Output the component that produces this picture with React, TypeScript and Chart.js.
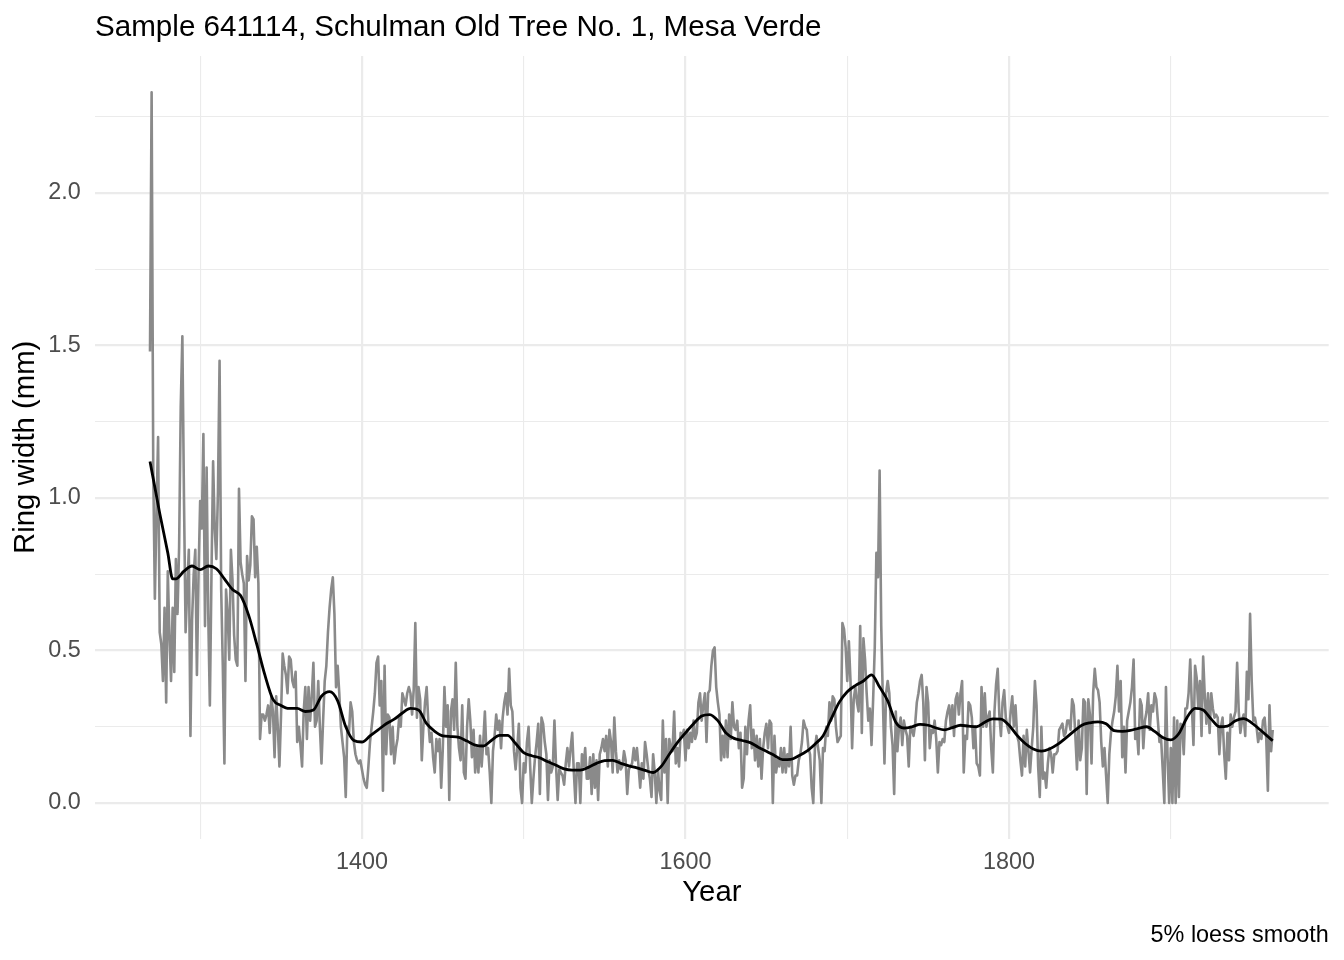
import React, { useEffect, useRef } from 'react';
import { Chart, registerables } from 'chart.js';

Chart.register(...registerables);

// Ring widths (mm), one value per year starting at FIRST_YEAR
const FIRST_YEAR = 1269;
const ringWidths: number[] = [
  1.48, 2.33, 1.10, 0.67, 0.95, 1.20, 0.56, 0.52, 0.40, 0.64, // 1269
  0.33, 0.76, 0.55, 0.40, 0.64, 0.43, 0.80, 0.62, 0.84, 1.30, // 1279
  1.53, 1.00, 0.56, 0.70, 0.83, 0.22, 0.60, 0.75, 0.83, 0.42, // 1289
  0.75, 0.99, 0.90, 1.21, 0.58, 1.10, 0.62, 0.32, 0.75, 1.12, // 1299
  0.90, 0.80, 1.02, 1.45, 0.70, 0.45, 0.13, 0.70, 0.62, 0.47, // 1309
  0.83, 0.73, 0.55, 0.47, 0.45, 1.03, 0.79, 0.75, 0.72, 0.40, // 1319
  0.81, 0.73, 0.78, 0.94, 0.93, 0.74, 0.84, 0.72, 0.21, 0.29, // 1329
  0.29, 0.27, 0.29, 0.32, 0.23, 0.35, 0.30, 0.15, 0.35, 0.25, // 1339
  0.12, 0.29, 0.49, 0.45, 0.42, 0.36, 0.48, 0.47, 0.40, 0.38, // 1349
  0.43, 0.20, 0.25, 0.19, 0.12, 0.30, 0.38, 0.21, 0.38, 0.27, // 1359
  0.35, 0.46, 0.25, 0.27, 0.40, 0.25, 0.13, 0.27, 0.40, 0.45, // 1369
  0.56, 0.64, 0.70, 0.74, 0.62, 0.38, 0.45, 0.36, 0.25, 0.20, // 1379
  0.15, 0.02, 0.25, 0.23, 0.33, 0.30, 0.20, 0.16, 0.14, 0.13, // 1389
  0.14, 0.11, 0.08, 0.06, 0.05, 0.12, 0.20, 0.25, 0.30, 0.36, // 1399
  0.46, 0.48, 0.32, 0.40, 0.04, 0.45, 0.16, 0.29, 0.28, 0.16, // 1409
  0.25, 0.13, 0.18, 0.21, 0.28, 0.25, 0.36, 0.34, 0.32, 0.36, // 1419
  0.38, 0.36, 0.29, 0.37, 0.59, 0.28, 0.38, 0.34, 0.14, 0.25, // 1429
  0.33, 0.38, 0.27, 0.20, 0.23, 0.15, 0.10, 0.21, 0.17, 0.21, // 1439
  0.05, 0.18, 0.38, 0.25, 0.32, 0.01, 0.30, 0.34, 0.24, 0.46, // 1449
  0.25, 0.18, 0.14, 0.32, 0.10, 0.08, 0.25, 0.34, 0.27, 0.15, // 1459
  0.24, 0.10, 0.18, 0.10, 0.22, 0.12, 0.20, 0.30, 0.16, 0.18, // 1469
  0.10, 0.00, 0.17, 0.22, 0.29, 0.24, 0.27, 0.18, 0.28, 0.33, // 1479
  0.36, 0.29, 0.44, 0.32, 0.30, 0.17, 0.11, 0.18, 0.26, 0.05, // 1489
  0.00, 0.13, 0.10, 0.20, 0.25, 0.12, 0.00, 0.08, 0.15, 0.20, // 1499
  0.26, 0.03, 0.28, 0.26, 0.20, 0.16, 0.01, 0.14, 0.10, 0.12, // 1509
  0.27, 0.12, 0.01, 0.11, 0.10, 0.09, 0.06, 0.13, 0.18, 0.12, // 1519
  0.18, 0.23, 0.10, 0.00, 0.13, 0.13, 0.00, 0.16, 0.12, 0.18, // 1529
  0.08, 0.08, 0.15, 0.03, 0.16, 0.05, 0.14, 0.01, 0.16, 0.18, // 1539
  0.21, 0.17, 0.22, 0.12, 0.24, 0.20, 0.10, 0.28, 0.17, 0.10, // 1549
  0.14, 0.11, 0.12, 0.17, 0.14, 0.03, 0.11, 0.12, 0.13, 0.18, // 1559
  0.14, 0.18, 0.12, 0.05, 0.13, 0.08, 0.20, 0.16, 0.11, 0.08, // 1569
  0.02, 0.16, 0.10, 0.00, 0.11, 0.04, 0.01, 0.27, 0.10, 0.21, // 1579
  0.00, 0.21, 0.18, 0.17, 0.30, 0.13, 0.18, 0.12, 0.23, 0.22, // 1589
  0.24, 0.14, 0.24, 0.18, 0.23, 0.20, 0.27, 0.21, 0.23, 0.33, // 1599
  0.36, 0.27, 0.32, 0.36, 0.20, 0.36, 0.37, 0.45, 0.50, 0.51, // 1609
  0.38, 0.33, 0.29, 0.14, 0.22, 0.15, 0.27, 0.15, 0.29, 0.21, // 1619
  0.33, 0.25, 0.24, 0.27, 0.18, 0.23, 0.05, 0.08, 0.25, 0.16, // 1629
  0.27, 0.32, 0.18, 0.24, 0.14, 0.22, 0.12, 0.21, 0.08, 0.18, // 1639
  0.23, 0.26, 0.18, 0.27, 0.26, 0.00, 0.22, 0.10, 0.14, 0.12, // 1649
  0.18, 0.10, 0.18, 0.10, 0.16, 0.12, 0.25, 0.09, 0.06, 0.09, // 1659
  0.09, 0.14, 0.16, 0.20, 0.27, 0.25, 0.24, 0.18, 0.16, 0.05, // 1669
  0.00, 0.18, 0.22, 0.18, 0.14, 0.00, 0.18, 0.17, 0.25, 0.22, // 1679
  0.33, 0.27, 0.35, 0.34, 0.25, 0.20, 0.21, 0.22, 0.59, 0.57, // 1689
  0.51, 0.40, 0.53, 0.40, 0.18, 0.34, 0.38, 0.33, 0.30, 0.58, // 1699
  0.23, 0.54, 0.47, 0.36, 0.27, 0.31, 0.19, 0.34, 0.51, 0.82, // 1709
  0.74, 1.09, 0.58, 0.34, 0.13, 0.36, 0.40, 0.36, 0.25, 0.19, // 1719
  0.03, 0.30, 0.17, 0.25, 0.28, 0.19, 0.27, 0.24, 0.22, 0.12, // 1729
  0.25, 0.24, 0.22, 0.26, 0.33, 0.36, 0.40, 0.42, 0.33, 0.14, // 1739
  0.38, 0.33, 0.18, 0.24, 0.23, 0.27, 0.21, 0.10, 0.20, 0.19, // 1749
  0.21, 0.20, 0.27, 0.30, 0.32, 0.25, 0.32, 0.22, 0.34, 0.36, // 1759
  0.29, 0.36, 0.40, 0.10, 0.22, 0.21, 0.33, 0.32, 0.28, 0.18, // 1769
  0.25, 0.13, 0.12, 0.09, 0.38, 0.25, 0.36, 0.25, 0.28, 0.30, // 1779
  0.18, 0.10, 0.30, 0.39, 0.44, 0.29, 0.22, 0.33, 0.37, 0.28, // 1789
  0.25, 0.23, 0.30, 0.35, 0.25, 0.32, 0.22, 0.20, 0.14, 0.09, // 1799
  0.22, 0.12, 0.24, 0.17, 0.10, 0.18, 0.25, 0.40, 0.32, 0.12, // 1809
  0.02, 0.25, 0.08, 0.10, 0.05, 0.13, 0.18, 0.16, 0.10, 0.16, // 1819
  0.16, 0.17, 0.24, 0.25, 0.26, 0.22, 0.23, 0.27, 0.27, 0.24, // 1829
  0.34, 0.32, 0.22, 0.11, 0.27, 0.14, 0.18, 0.34, 0.33, 0.03, // 1839
  0.34, 0.29, 0.13, 0.36, 0.44, 0.38, 0.37, 0.33, 0.20, 0.12, // 1849
  0.18, 0.09, 0.00, 0.16, 0.23, 0.27, 0.30, 0.35, 0.45, 0.30, // 1859
  0.40, 0.15, 0.25, 0.10, 0.27, 0.30, 0.33, 0.38, 0.47, 0.21, // 1869
  0.24, 0.16, 0.34, 0.32, 0.18, 0.27, 0.30, 0.36, 0.24, 0.32, // 1879
  0.30, 0.36, 0.34, 0.27, 0.20, 0.21, 0.11, 0.00, 0.38, 0.15, // 1889
  0.00, 0.18, 0.00, 0.28, 0.00, 0.27, 0.02, 0.26, 0.25, 0.16, // 1899
  0.31, 0.31, 0.36, 0.47, 0.32, 0.19, 0.45, 0.41, 0.31, 0.40, // 1909
  0.22, 0.48, 0.35, 0.26, 0.36, 0.23, 0.36, 0.31, 0.28, 0.29, // 1919
  0.28, 0.16, 0.25, 0.28, 0.16, 0.08, 0.23, 0.14, 0.29, 0.25, // 1929
  0.28, 0.30, 0.46, 0.30, 0.23, 0.27, 0.29, 0.22, 0.43, 0.34, // 1939
  0.62, 0.40, 0.27, 0.28, 0.25, 0.20, 0.23, 0.21, 0.27, 0.28, // 1949
  0.21, 0.04, 0.32, 0.17, 0.24, // 1959
];

// 5% loess smooth
const smoothYears: number[] = [
  1269, 1275, 1280, 1283, 1285, 1290, 1295, 1300, 1305, 1310, 1315, 1320, 1325, 1330, 1335,
  1340, 1345, 1350, 1355, 1360, 1365, 1370, 1375, 1380, 1385, 1390, 1395, 1400, 1405, 1410,
  1415, 1420, 1425, 1430, 1435, 1440, 1445, 1450, 1455, 1460, 1465, 1470, 1475, 1480, 1485,
  1490, 1495, 1500, 1505, 1510, 1515, 1520, 1525, 1530, 1535, 1540, 1545, 1550, 1555, 1560,
  1565, 1570, 1575, 1580, 1585, 1590, 1595, 1600, 1605, 1610, 1615, 1620, 1625, 1630, 1635,
  1640, 1645, 1650, 1655, 1660, 1665, 1670, 1675, 1680, 1685, 1690, 1695, 1700, 1705, 1710,
  1715, 1720, 1725, 1730, 1735, 1740, 1745, 1750, 1755, 1760, 1765, 1770, 1775, 1780, 1785,
  1790, 1795, 1800, 1805, 1810, 1815, 1820, 1825, 1830, 1835, 1840, 1845, 1850, 1855, 1860,
  1865, 1870, 1875, 1880, 1885, 1890, 1895, 1900, 1905, 1910, 1915, 1920, 1925, 1930, 1935,
  1940, 1945, 1950, 1955, 1960, 1963,
];
const smoothWidths: number[] = [
  1.12, 0.95, 0.82, 0.735, 0.735, 0.76, 0.777, 0.765, 0.777, 0.768, 0.735, 0.70, 0.68, 0.615, 0.52,
  0.42, 0.34, 0.32, 0.31, 0.31, 0.30, 0.305, 0.35, 0.365, 0.335, 0.25, 0.205, 0.20, 0.22, 0.24,
  0.26, 0.275, 0.295, 0.31, 0.305, 0.26, 0.235, 0.22, 0.218, 0.215, 0.203, 0.19, 0.187, 0.205, 0.222,
  0.222, 0.195, 0.165, 0.155, 0.148, 0.135, 0.124, 0.112, 0.108, 0.108, 0.117, 0.13, 0.139, 0.14, 0.13,
  0.122, 0.115, 0.107, 0.10, 0.12, 0.16, 0.198, 0.23, 0.26, 0.285, 0.29, 0.27, 0.23, 0.212, 0.205,
  0.198, 0.183, 0.17, 0.156, 0.142, 0.143, 0.155, 0.17, 0.193, 0.22, 0.275, 0.33, 0.365, 0.385, 0.40,
  0.42, 0.38, 0.335, 0.265, 0.246, 0.25, 0.258, 0.255, 0.246, 0.24, 0.247, 0.255, 0.252, 0.25, 0.265,
  0.276, 0.275, 0.255, 0.222, 0.195, 0.177, 0.17, 0.177, 0.192, 0.213, 0.235, 0.255, 0.263, 0.266, 0.26,
  0.237, 0.235, 0.238, 0.245, 0.25, 0.235, 0.215, 0.207, 0.228, 0.28, 0.31, 0.305, 0.275, 0.25, 0.252,
  0.27, 0.277, 0.263, 0.241, 0.218, 0.204,
];

// grid positions (major ones get labels)
const xTicks = [1300, 1400, 1500, 1600, 1700, 1800, 1900];
const yTicks = [0, 0.25, 0.5, 0.75, 1, 1.25, 1.5, 1.75, 2, 2.25];

const FONT = '"Liberation Sans", Arial, Helvetica, sans-serif';
const GRID = '#ebebeb';
const TICK_TEXT = '#4d4d4d';

const App: React.FC = () => {
  const canvasRef = useRef<HTMLCanvasElement>(null);

  useEffect(() => {
    if (!canvasRef.current) return;
    Chart.defaults.font.family = FONT;

    const raw = ringWidths.map((w, i) => ({ x: FIRST_YEAR + i, y: w }));
    const smooth = smoothYears.map((yr, i) => ({ x: yr, y: smoothWidths[i] }));

    const chart = new Chart(canvasRef.current, {
      type: 'line',
      data: {
        datasets: [
          {
            data: smooth,
            borderColor: '#000000',
            borderWidth: 2.8,
            pointRadius: 0,
            cubicInterpolationMode: 'monotone',
            borderJoinStyle: 'round',
            order: 0,
          },
          {
            data: raw,
            borderColor: '#8a8a8a',
            borderWidth: 2.6,
            pointRadius: 0,
            tension: 0,
            borderJoinStyle: 'round',
            order: 1,
          },
        ],
      },
      options: {
        animation: false,
        responsive: true,
        maintainAspectRatio: false,
        events: [],
        layout: { padding: { left: 0, right: 15.3, top: 0, bottom: 0 } },
        plugins: {
          legend: { display: false },
          tooltip: { enabled: false },
          title: {
            display: true,
            text: 'Sample 641114, Schulman Old Tree No. 1, Mesa Verde',
            align: 'start',
            fullSize: false,
            color: '#000000',
            font: { size: 29.6, weight: 'normal', lineHeight: 1.2 },
            padding: { top: 10, bottom: 10.5 },
          },
          subtitle: {
            display: true,
            text: '5% loess smooth',
            position: 'bottom',
            align: 'end',
            fullSize: false,
            color: '#000000',
            font: { size: 23.4, weight: 'normal', lineHeight: 1.2 },
            padding: { top: 7.4, bottom: 10.9 },
          },
        },
        scales: {
          x: {
            type: 'linear',
            min: 1235,
            max: 1997.6,
            afterBuildTicks: (scale) => {
              scale.ticks = xTicks.map((value) => ({ value }));
            },
            afterFit: (scale) => {
              scale.height = 75;
            },
            ticks: {
              autoSkip: false,
              maxRotation: 0,
              padding: 9.4,
              color: TICK_TEXT,
              font: { size: 23.4 },
              callback: (v) => (Number(v) % 200 === 0 ? String(v) : ''),
            },
            grid: {
              color: GRID,
              drawTicks: false,
              lineWidth: (ctx) => (ctx.tick && ctx.tick.value % 200 === 0 ? 2.2 : 1.1),
            },
            border: { display: false },
            title: {
              display: true,
              text: 'Year',
              color: '#000000',
              font: { size: 29.3, lineHeight: 1.2 },
              padding: { top: 0, bottom: 3.2 },
            },
          },
          y: {
            type: 'linear',
            min: -0.1167,
            max: 2.449,
            afterBuildTicks: (scale) => {
              scale.ticks = yTicks.map((value) => ({ value }));
            },
            afterFit: (scale) => {
              scale.width = 95;
            },
            ticks: {
              padding: 14.3,
              color: TICK_TEXT,
              font: { size: 23.4 },
              callback: (v) => (Number(v) % 0.5 === 0 ? Number(v).toFixed(1) : ''),
            },
            grid: {
              color: GRID,
              drawTicks: false,
              lineWidth: (ctx) => (ctx.tick && ctx.tick.value % 0.5 === 0 ? 2.2 : 1.1),
            },
            border: { display: false },
            title: {
              display: true,
              text: 'Ring width (mm)',
              color: '#000000',
              font: { size: 29.3, lineHeight: 1.2 },
              padding: { top: 8.4, bottom: 0 },
            },
          },
        },
      },
    });

    return () => {
      chart.destroy();
    };
  }, []);

  return (
    <div style={{ position: 'absolute', left: 0, top: 0, width: 1344, height: 960, background: '#ffffff' }}>
      <canvas ref={canvasRef} />
    </div>
  );
};

export default App;
